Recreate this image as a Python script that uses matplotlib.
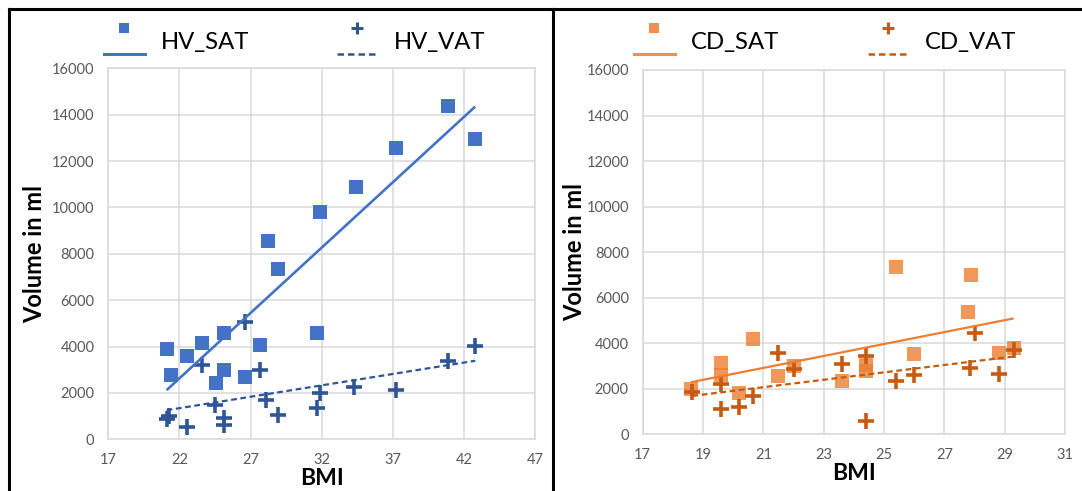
import numpy as np
import matplotlib
matplotlib.use("Agg")
import matplotlib.pyplot as plt
from matplotlib.lines import Line2D
from matplotlib.legend_handler import HandlerLine2DCompound

# ---- data -------------------------------------------------------------
hv_sat_bmi = [21.1, 21.4, 22.5, 23.6, 24.6, 25.1, 25.1, 26.6, 27.7, 28.2,
              28.9, 31.9, 31.7, 34.4, 37.2, 40.9, 42.8]
hv_sat = [3880, 2760, 3580, 4140, 2440, 2990, 4600, 2670, 4070, 8540,
          7340, 9790, 4570, 10890, 12560, 14390, 12940]

hv_vat_bmi = [21.1, 21.3, 22.5, 23.6, 24.5, 25.1, 25.1, 26.6, 27.7, 28.1,
              28.9, 31.7, 31.9, 34.3, 37.2, 40.9, 42.8]
hv_vat = [880, 1000, 540, 3200, 1480, 900, 620, 5070, 2990, 1690,
          1050, 1340, 1980, 2270, 2130, 3390, 4020]

cd_sat_bmi = [18.6, 19.6, 19.6, 20.2, 20.65, 21.5, 22.0, 23.6, 24.4, 24.4,
              25.4, 26.0, 27.8, 27.9, 28.8, 29.3]
cd_sat = [1980, 3150, 2610, 1800, 4200, 2570, 3020, 2320, 3050, 2800,
          7350, 3540, 5360, 7010, 3570, 3790]

cd_vat_bmi = [18.65, 19.6, 19.6, 20.2, 20.65, 21.5, 22.0, 23.6, 24.4, 24.4,
              25.4, 26.0, 27.85, 28.0, 28.8, 29.3]
cd_vat = [1850, 2210, 1100, 1220, 1690, 3570, 2860, 3080, 3420, 590,
          2360, 2610, 2900, 4450, 2640, 3710]

left_xticks = [17, 22, 27, 32, 37, 42, 47]
right_xticks = [17, 19, 21, 23, 25, 27, 29, 31]
yticks = [0, 2000, 4000, 6000, 8000, 10000, 12000, 14000, 16000]

# ---- style ------------------------------------------------------------
plt.rcParams["font.family"] = ["Lato", "DejaVu Sans"]
W, H = 1082, 491
GRID = "#D9D9D9"
TICK = "#595959"
BLUE, DBLUE = "#4472C4", "#2F5597"
ORANGE, DORANGE = "#ED7D31", "#C55A11"
DASH = (0, (2.6, 1.6))


class MarkerAboveLine(HandlerLine2DCompound):
    """Legend key with the series marker sitting above its trend line."""

    def create_artists(self, legend, orig_handle, xdescent, ydescent,
                       width, height, fontsize, trans):
        line, marker = super().create_artists(legend, orig_handle, xdescent,
                                              ydescent, width, height,
                                              fontsize, trans)
        yc = (height - ydescent) / 2
        line.set_ydata(np.full(len(line.get_xdata()), yc - 0.58 * fontsize))
        marker.set_ydata(np.full(len(marker.get_xdata()), yc + 0.5 * fontsize))
        return [line, marker]


def trend(ax, x, y, color, ls, lw):
    x = np.asarray(x, float)
    y = np.asarray(y, float)
    k, b = np.polyfit(x, y, 1)
    xs = np.array([x.min(), x.max()])
    ax.plot(xs, k * xs + b, color=color, ls=ls, lw=lw, zorder=4,
            solid_capstyle="butt")


def style_axes(ax, xticks, xlim):
    ax.set_xlim(*xlim)
    ax.set_ylim(0, 16000)
    ax.set_xticks(xticks)
    ax.set_yticks(yticks)
    ax.grid(True, color=GRID, lw=1.1, zorder=0)
    ax.set_axisbelow(True)
    for s in ax.spines.values():
        s.set_color(GRID)
        s.set_linewidth(1.1)
    ax.tick_params(length=0, labelsize=10.5, labelcolor=TICK)
    ax.tick_params(axis="y", pad=10)
    ax.tick_params(axis="x", pad=10)


def add_legends(ax, entries):
    for i, (handle, label, xpix) in enumerate(entries):
        leg = ax.legend([handle], [label], loc="center left",
                        bbox_to_anchor=(xpix / W, 1 - 42 / H),
                        bbox_transform=fig.transFigure, frameon=False,
                        fontsize=17.2, handlelength=41 / 24,
                        handletextpad=16 / 24, borderpad=0,
                        borderaxespad=0,
                        handler_map={Line2D: MarkerAboveLine()})
        if i == 0:
            ax.add_artist(leg)


def axis_labels(ax, xlab_y, ylab_x):
    ax.set_xlabel("BMI", fontsize=16.5, fontweight="bold")
    ax.set_ylabel("Volume in ml", fontsize=17, fontweight="bold")
    ax.xaxis.set_label_coords(0.5, xlab_y)
    ax.xaxis.label.set_va("top")
    ax.yaxis.set_label_coords(ylab_x, 0.5)


fig = plt.figure(figsize=(W / 100, H / 100), dpi=100)

# ---- left panel: HV ---------------------------------------------------
axL = fig.add_axes([108.3 / W, 1 - 439.3 / H, 426.7 / W, 371 / H])
style_axes(axL, left_xticks, (17, 47))
axL.plot(hv_sat_bmi, hv_sat, ls="none", marker="s", ms=10, mew=0,
         color=BLUE, zorder=3)
axL.plot(hv_vat_bmi, hv_vat, ls="none", marker="+", ms=11, mew=2.6,
         color=DBLUE, zorder=3)
trend(axL, hv_sat_bmi, hv_sat, BLUE, "-", 1.9)
trend(axL, hv_vat_bmi, hv_vat, DBLUE, DASH, 1.6)
axis_labels(axL, -0.078, -0.145)
add_legends(axL, [
    (Line2D([], [], color=BLUE, lw=2.2, marker="s", ms=7, mew=0), "HV_SAT", 104),
    (Line2D([], [], color=DBLUE, lw=1.8, ls=DASH, marker="+", ms=8, mew=2.2), "HV_VAT", 337),
])

# ---- right panel: CD --------------------------------------------------
axR = fig.add_axes([642.7 / W, 1 - 434.3 / H, 422.3 / W, 364.3 / H])
style_axes(axR, right_xticks, (17, 31))
axR.plot(cd_sat_bmi, cd_sat, ls="none", marker="s", ms=9.6, mew=0,
         color=ORANGE, alpha=0.8, zorder=3)
axR.plot(cd_vat_bmi, cd_vat, ls="none", marker="+", ms=11, mew=2.6,
         color=DORANGE, zorder=3)
trend(axR, cd_sat_bmi, cd_sat, ORANGE, "-", 1.6)
trend(axR, cd_vat_bmi, cd_vat, DORANGE, DASH, 1.6)
axis_labels(axR, -0.079, -0.133)
add_legends(axR, [
    (Line2D([], [], color=ORANGE, lw=2.2, marker="s", ms=7, mew=0, alpha=0.85), "CD_SAT", 634),
    (Line2D([], [], color=DORANGE, lw=1.8, ls=DASH, marker="+", ms=8, mew=2.2), "CD_VAT", 868),
])

# ---- panel frames -----------------------------------------------------
for xs, ys in [([9 / W, 9 / W], [0, 1 - 9 / H]),
               ([9 / W, 1], [1 - 9 / H, 1 - 9 / H]),
               ([553 / W, 553 / W], [0, 1 - 9 / H])]:
    fig.add_artist(Line2D(xs, ys, transform=fig.transFigure,
                          color="black", lw=2.2))

fig.savefig("out.png", dpi=100)
